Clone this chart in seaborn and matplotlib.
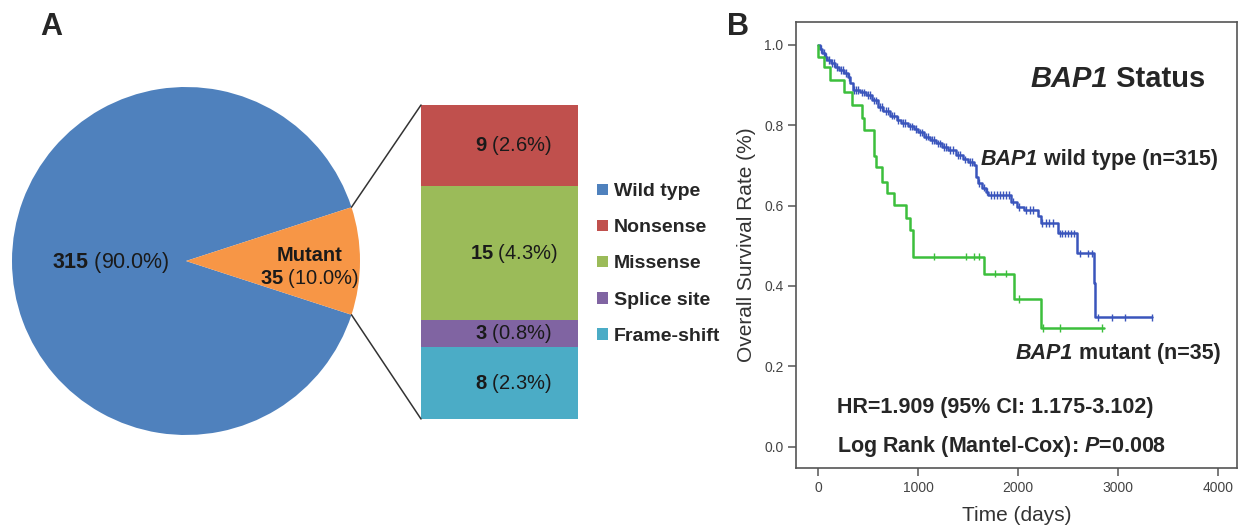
import numpy as np
import pandas as pd
import matplotlib
matplotlib.use("Agg")
import matplotlib.pyplot as plt
import seaborn as sns
from matplotlib.patches import Patch, ConnectionPatch

# ---- Panel A data ----
pie_labels = ["Wild type", "Mutant"]
pie_counts = [315, 35]
pie_pcts = [90.0, 10.0]

# mutation types, bottom to top of the stacked bar
mut_types = ["Frame-shift", "Splice site", "Missense", "Nonsense"]
mut_counts = [8, 3, 15, 9]
mut_pcts = [2.3, 0.8, 4.3, 2.6]

legend_labels = ["Wild type", "Nonsense", "Missense", "Splice site", "Frame-shift"]

# ---- Panel B data ----
wt_time = [0, 15, 40, 65, 90, 130, 170, 210, 260, 300, 320, 345, 420, 480, 540, 600, 650,
           720, 790, 830, 900, 960, 1000, 1060, 1120, 1180, 1240, 1300, 1380, 1450, 1500,
           1560, 1580, 1595, 1640, 1675, 1700, 1925, 1990, 2060, 2195, 2225, 2395, 2590,
           2757, 2765, 3340]
wt_surv = [1.0, 0.99, 0.98, 0.97, 0.962, 0.955, 0.945, 0.937, 0.93, 0.92, 0.905, 0.888,
           0.882, 0.876, 0.862, 0.845, 0.835, 0.824, 0.813, 0.805, 0.797, 0.79, 0.782,
           0.772, 0.763, 0.755, 0.746, 0.738, 0.726, 0.715, 0.708, 0.70, 0.672, 0.656,
           0.645, 0.635, 0.627, 0.610, 0.597, 0.589, 0.573, 0.556, 0.531, 0.481, 0.407,
           0.322, 0.322]
wt_censor = [30, 55, 80, 110, 140, 155, 185, 230, 250, 280, 310, 360, 380, 400, 440, 460,
             500, 520, 560, 580, 620, 640, 680, 700, 740, 760, 800, 850, 870, 920, 940,
             980, 1020, 1040, 1080, 1100, 1140, 1160, 1200, 1220, 1260, 1280, 1320, 1350,
             1400, 1420, 1470, 1520, 1540, 1610, 1660, 1690, 1730, 1760, 1790, 1820, 1850,
             1880, 1910, 1950, 2010, 2080, 2120, 2150, 2240, 2280, 2310, 2350, 2420, 2440,
             2470, 2500, 2530, 2560, 2620, 2700, 2740, 2800, 2940, 3073, 3340]

mut_time = [0, 3, 63, 123, 256, 340, 440, 455, 556, 575, 640, 690, 756, 883, 923, 946,
            1660, 1963, 2230, 2857]
mut_surv = [1.0, 0.971, 0.946, 0.913, 0.884, 0.851, 0.818, 0.788, 0.724, 0.697, 0.660,
            0.631, 0.602, 0.569, 0.539, 0.473, 0.431, 0.368, 0.295, 0.295]
mut_censor = [1163, 1483, 1556, 1613, 1773, 1883, 2006, 2250, 2423, 2840]

pie_colors = ["#4F81BD", "#F79646"]
bar_colors = ["#4BACC6", "#8064A2", "#9BBB59", "#C0504D"]
legend_colors = ["#4F81BD", "#C0504D", "#9BBB59", "#8064A2", "#4BACC6"]
km_colors = {"wild": "#3A55BC", "mutant": "#3CBF3C"}

sns.set_theme(style="ticks")
plt.rcParams["font.family"] = ["Liberation Sans", "DejaVu Sans"]
plt.rcParams["mathtext.fontset"] = "custom"
plt.rcParams["mathtext.rm"] = "Liberation Sans"
plt.rcParams["mathtext.bf"] = "Liberation Sans:bold"
plt.rcParams["mathtext.it"] = "Liberation Sans:italic:bold"

W, H = 1238, 525
fig = plt.figure(figsize=(W / 100, H / 100), dpi=100)


def px(x0, y0, w, h):
    return [x0 / W, 1 - (y0 + h) / H, w / W, h / H]


def gene_text(ax, x, y, rest, size):
    # italic gene name followed by plain bold text
    t1 = ax.text(x, y, "BAP1", fontsize=size, fontweight="bold", fontstyle="italic",
                 ha="left", va="baseline")
    ax.annotate(rest, xy=(1, 0), xycoords=t1, fontsize=size, fontweight="bold",
                ha="left", va="bottom")


# ---- A: pie ----
ax_pie = fig.add_axes(px(12, 87, 348, 348))
wedges, _ = ax_pie.pie(pie_counts, colors=pie_colors, startangle=18,
                       counterclock=True, radius=1, wedgeprops=dict(linewidth=0))
ax_pie.set_xlim(-1, 1)
ax_pie.set_ylim(-1, 1)
ax_pie.axis("off")
ax_pie.text(-0.43, -0.006, r"$\mathbf{%d}$ (%.1f%%)" % (pie_counts[0], pie_pcts[0]),
            ha="center", va="center", fontsize=15.5, color="#1a1a1a")
ax_pie.text(0.71, 0.034, pie_labels[1], ha="center", va="center", fontsize=14.5,
            fontweight="bold", color="#1a1a1a")
ax_pie.text(0.71, -0.098, r"$\mathbf{%d}$ (%.1f%%)" % (pie_counts[1], pie_pcts[1]),
            ha="center", va="center", fontsize=14.5, color="#1a1a1a")

# ---- A: stacked bar of mutant types ----
ax_bar = fig.add_axes(px(421, 105, 157, 314))
bottoms = np.concatenate([[0], np.cumsum(mut_counts)[:-1]])
for cnt, bot, col, pct in zip(mut_counts, bottoms, bar_colors, mut_pcts):
    ax_bar.bar(0, cnt, bottom=bot, width=1, color=col, linewidth=0)
    ax_bar.text(0.09, bot + cnt / 2, r"$\mathbf{%d}$ (%.1f%%)" % (cnt, pct),
                ha="center", va="center", fontsize=14.5, color="#1a1a1a")
ax_bar.set_xlim(-0.5, 0.5)
ax_bar.set_ylim(0, sum(mut_counts))
ax_bar.axis("off")

mw = wedges[1]
for ang, ytop in [(mw.theta2, sum(mut_counts)), (mw.theta1, 0)]:
    a = np.deg2rad(ang)
    con = ConnectionPatch(xyA=(np.cos(a), np.sin(a)), coordsA=ax_pie.transData,
                          xyB=(-0.5, ytop), coordsB=ax_bar.transData,
                          color="#333333", lw=1.1)
    fig.add_artist(con)

handles = [Patch(facecolor=c, edgecolor="none") for c in legend_colors]
fig.legend(handles, legend_labels, loc="center left", bbox_to_anchor=(597 / W, 1 - 264 / H),
           frameon=False, prop={"weight": "bold", "size": 14}, handlelength=0.55,
           handleheight=0.55, handletextpad=0.3, labelspacing=0.98, borderpad=0,
           borderaxespad=0)

fig.text(40 / W, 1 - 27 / H, "A", fontsize=22, fontweight="bold", va="center", ha="left")
fig.text(727 / W, 1 - 27 / H, "B", fontsize=22, fontweight="bold", va="center", ha="left")

# ---- B: Kaplan-Meier ----
ax = fig.add_axes(px(796, 22, 441, 446))
km = pd.concat([
    pd.DataFrame({"time": wt_time, "surv": wt_surv, "group": "wild"}),
    pd.DataFrame({"time": mut_time, "surv": mut_surv, "group": "mutant"}),
])
sns.lineplot(data=km, x="time", y="surv", hue="group", palette=km_colors,
             estimator=None, drawstyle="steps-post", linewidth=1.8, legend=False, ax=ax)

cens_rows = []
for name, t, s, c in [("wild", wt_time, wt_surv, wt_censor),
                      ("mutant", mut_time, mut_surv, mut_censor)]:
    idx = np.searchsorted(t, c, side="right") - 1
    cens_rows.append(pd.DataFrame({"time": c, "surv": np.asarray(s)[idx], "group": name}))
cens = pd.concat(cens_rows)
sns.scatterplot(data=cens, x="time", y="surv", hue="group", palette=km_colors,
                marker="|", s=30, linewidth=1.0, legend=False, ax=ax)

ax.set_xlim(-220, 4190)
ax.set_ylim(-0.053, 1.057)
ax.set_xticks(np.arange(0, 4001, 1000))
ax.set_yticks(np.arange(0, 1.01, 0.2))
ax.set_yticklabels([f"{v:.1f}" for v in np.arange(0, 1.01, 0.2)])
ax.tick_params(direction="out", length=6, width=1.1, color="#555555",
               labelcolor="#444444", labelsize=10, pad=3)
for sp in ax.spines.values():
    sp.set_visible(True)
    sp.set_color("#555555")
    sp.set_linewidth(1.2)
ax.set_xlabel("Time (days)", fontsize=15, color="#333333", labelpad=8)
ax.set_ylabel("Overall Survival Rate (%)", fontsize=15, color="#333333", labelpad=6)

gene_text(ax, 2120, 0.895, " Status", 21)
gene_text(ax, 1623, 0.701, " wild type (n=315)", 15.5)
gene_text(ax, 1973, 0.218, " mutant (n=35)", 15.5)
ax.text(193, 0.085, "HR=1.909 (95% CI: 1.175-3.102)", fontsize=15.5,
        fontweight="bold", ha="left", va="baseline")
ax.text(193, -0.012, r"Log Rank (Mantel-Cox): $\mathit{P}$=0.008", fontsize=15.5,
        fontweight="bold", ha="left", va="baseline")

fig.savefig("out.png", dpi=100)
